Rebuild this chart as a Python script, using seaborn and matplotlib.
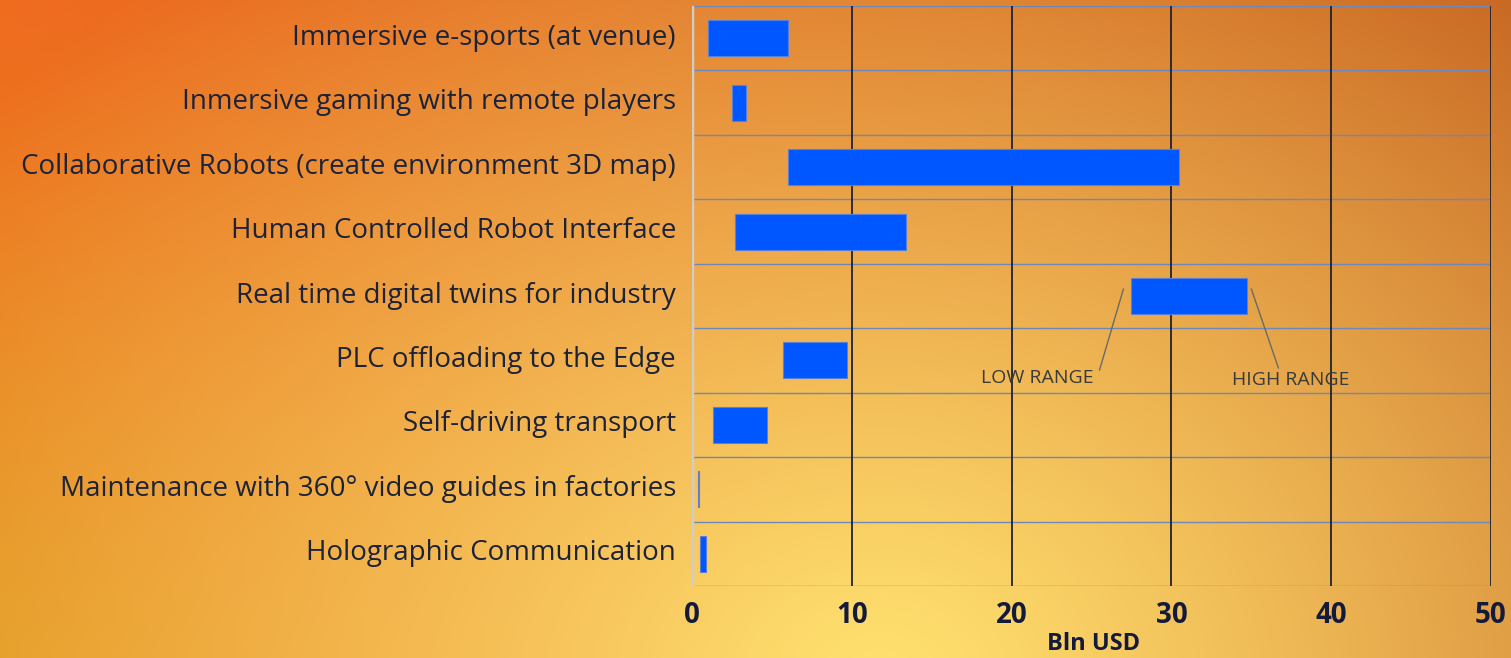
import numpy as np
import pandas as pd
import matplotlib
matplotlib.use("Agg")
import matplotlib.pyplot as plt
import matplotlib.transforms as mtransforms
import seaborn as sns

use_cases = [
    "Immersive e-sports (at venue)",
    "Inmersive gaming with remote players",
    "Collaborative Robots (create environment 3D map)",
    "Human Controlled Robot Interface",
    "Real time digital twins for industry",
    "PLC offloading to the Edge",
    "Self-driving transport",
    "Maintenance with 360° video guides in factories",
    "Holographic Communication",
]
low_range = [1.0, 2.5, 6.0, 2.7, 27.5, 5.7, 1.3, 0.38, 0.5]
high_range = [6.0, 3.4, 30.5, 13.4, 34.7, 9.7, 4.7, 0.45, 0.9]
x_ticks = [0, 10, 20, 30, 40, 50]

df = pd.DataFrame({"use_case": use_cases, "low": low_range, "high": high_range})
df["span"] = df["high"] - df["low"]

sns.set_theme(style="white")
plt.rcParams["font.family"] = ["Open Sans", "DejaVu Sans"]

fig = plt.figure(figsize=(15.11, 6.58), dpi=100)

# gradient background
H, W = 658, 1511
yy, xx = np.mgrid[0:H, 0:W]
dist = np.sqrt(((xx - 880) / 1150.0) ** 2 + ((yy - 680) / 900.0) ** 2)
t = np.clip(dist, 0, 1) ** 1.1
inner = np.array([255, 226, 112]) / 255.0
left_outer = np.array([240, 108, 32]) / 255.0
right_outer = np.array([196, 96, 30]) / 255.0
fx = (xx / W)[..., None]
outer = left_outer * (1 - fx) + right_outer * fx
bottom_left = np.array([222, 140, 22]) / 255.0
fb = np.clip((yy / H) * (1 - xx / 650.0), 0, 1)[..., None]
outer = outer * (1 - fb) + bottom_left * fb
img = inner * (1 - t[..., None]) + outer * t[..., None]
bg = fig.add_axes([0, 0, 1, 1], zorder=-1)
bg.imshow(img, aspect="auto", extent=[0, 1, 0, 1])
bg.axis("off")

ax = fig.add_axes([692 / 1511, 1 - 586 / 658, 799 / 1511, 580 / 658])
ax.set_facecolor("none")

sns.barplot(data=df, x="span", y="use_case", ax=ax, color="#0057FF",
            saturation=1, width=0.56, edgecolor="#5a7fd8", linewidth=0.8)
for patch, lo in zip(ax.patches, df["low"]):
    patch.set_x(lo)

ax.set_xlim(0, 50)
ax.set_ylim(len(use_cases) - 0.5, -0.5)
ax.set_xticks(x_ticks)

for xv in x_ticks[1:]:
    ax.axvline(xv, color="#1e2233", lw=1.3, zorder=0.5)
for yv in np.arange(-0.5, len(use_cases), 1):
    ax.axhline(yv, color="#7088b8", lw=1.0, zorder=0.4)
ax.axvline(0, color="#d0cdc6", lw=2.5, zorder=0.6)

for s in ax.spines.values():
    s.set_visible(False)

ax.tick_params(axis="both", length=0)
ax.tick_params(axis="x", pad=11)
ax.tick_params(axis="y", pad=11.5)
for lbl in ax.get_xticklabels():
    lbl.set_fontsize(20)
    lbl.set_fontweight("bold")
    lbl.set_color("#141a3a")
shift = mtransforms.ScaledTranslation(0, 4 / 100, fig.dpi_scale_trans)
for lbl in ax.get_yticklabels():
    lbl.set_fontsize(20)
    lbl.set_color("#1c2238")
    lbl.set_transform(lbl.get_transform() + shift)

ax.set_ylabel("")
ax.set_xlabel("Bln USD", fontsize=17, fontweight="bold", color="#141a3a")
ax.xaxis.set_label_coords(0.502, -0.08)

ax.text(18.1, 5.28, "LOW RANGE", fontsize=14, color="#3a3a3a", va="center", ha="left")
ax.text(33.8, 5.31, "HIGH RANGE", fontsize=14, color="#3a3a3a", va="center", ha="left")
ax.plot([25.5, 27.0], [5.15, 3.89], color="#6a6a6a", lw=1)
ax.plot([35.0, 36.7], [3.89, 5.12], color="#6a6a6a", lw=1)

fig.savefig("out.png", dpi=100)
